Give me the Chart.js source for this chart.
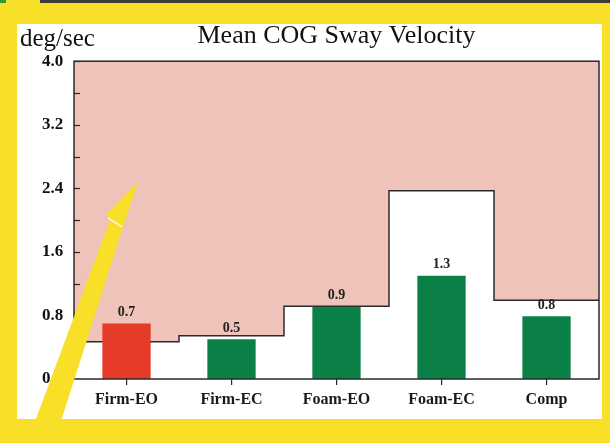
<!DOCTYPE html>
<html>
<head>
<meta charset="utf-8">
<script src="https://cdn.jsdelivr.net/npm/chart.js@4.4.1/dist/chart.umd.min.js"></script>
<style>
  html,body{margin:0;padding:0;background:#f8e028;}
  #wrap{position:relative;width:610px;height:443px;}
  canvas{display:block;}
</style>
</head>
<body>
<div id="wrap"><canvas id="chart" width="610" height="443"></canvas></div>
<script>
/* Mean COG Sway Velocity */
const categories = ['Firm-EO','Firm-EC','Foam-EO','Foam-EC','Comp'];
const swayValues = [0.70, 0.50, 0.91, 1.30, 0.79];
const normalLimits = [0.47, 0.545, 0.915, 2.37, 0.99];
const yTickLabels = ['0','0.8','1.6','2.4','3.2','4.0'];
const yUnit = 'deg/sec';
const chartTitle = 'Mean COG Sway Velocity';

const RED='#e53b28', GREEN='#0b8046', PINK='#efc2ba', INK='#2a2a2a', YEL='#f8e028';
const SERIF = '"Liberation Serif","Times New Roman",serif';

// step line: one point per category edge, last value repeated to close the step
const limitPts = normalLimits.map((v,i)=>({x:i,y:v}));
limitPts.push({x:normalLimits.length, y:normalLimits[normalLimits.length-1]});

const framePlugin = {
  id:'frame',
  beforeDraw(c){
    const g=c.ctx;
    g.save();
    g.fillStyle=YEL; g.fillRect(0,0,c.width,c.height);
    g.fillStyle='#3a3a36'; g.fillRect(40,0,570,3);
    g.fillStyle='#2f9a3c'; g.fillRect(0,0,6,3);
    g.fillStyle='#fff'; g.fillRect(17,24,585,395);
    g.fillStyle='#111'; g.font='25px '+SERIF; g.textBaseline='alphabetic';
    g.fillText(yUnit,20,46);
    g.restore();
  },
  afterDatasetsDraw(c){
    const g=c.ctx, a=c.chartArea, y=c.scales.y;
    g.save();
    // value labels
    const meta=c.getDatasetMeta(0);
    g.fillStyle='#222'; g.font='bold 14px '+SERIF; g.textAlign='center'; g.textBaseline='bottom';
    meta.data.forEach((el,i)=>g.fillText(swayValues[i].toFixed(1),el.x,el.y-4));
    // inward ticks on y axis
    g.strokeStyle=INK; g.lineWidth=1.2;
    for(let v=0.4; v<4; v+=0.4){
      const py=Math.round(y.getPixelForValue(v))+0.5;
      g.beginPath(); g.moveTo(a.left,py); g.lineTo(a.left+6,py); g.stroke();
    }
    // plot box
    g.lineWidth=1.5;
    g.strokeRect(a.left,a.top,a.right-a.left,a.bottom-a.top);
    g.restore();
  },
  afterDraw(c){
    // yellow arrow overlay
    const g=c.ctx;
    g.save();
    g.fillStyle=YEL;
    g.beginPath();
    g.moveTo(138,182); g.lineTo(106,215); g.lineTo(110,220);
    g.lineTo(27,443); g.lineTo(54,443); g.lineTo(123,227);
    g.closePath(); g.fill();
    g.strokeStyle='rgba(255,250,220,0.9)'; g.lineWidth=1.5;
    g.beginPath(); g.moveTo(108,218); g.lineTo(122,227); g.stroke();
    g.restore();
  }
};

new Chart(document.getElementById('chart'),{
  type:'bar',
  data:{
    labels:categories,
    datasets:[
      {type:'bar', data:swayValues, order:0, grouped:false,
       backgroundColor:swayValues.map((_,i)=>i===0?RED:GREEN),
       borderWidth:0, categoryPercentage:1, barPercentage:0.46},
      {type:'line', data:limitPts, xAxisID:'x2', order:1,
       stepped:'before', fill:'end', backgroundColor:PINK,
       borderColor:INK, borderWidth:1.5, pointRadius:0, tension:0}
    ]
  },
  options:{
    responsive:false, animation:false, devicePixelRatio:1,
    layout:{padding:{left:42,right:11,top:0,bottom:0}},
    plugins:{
      legend:{display:false}, tooltip:{enabled:false},
      title:{display:true, text:chartTitle, fullSize:false, color:'#111',
        font:{family:SERIF,size:26,weight:'normal',lineHeight:1.2},
        padding:{top:21,bottom:9}}
    },
    scales:{
      x:{
        grid:{display:true, drawOnChartArea:false, drawTicks:true, tickLength:6, offset:false, color:INK, lineWidth:1.2},
        border:{display:false},
        ticks:{color:'#1a1a1a', font:{family:SERIF,size:16,weight:'bold'}, padding:5, maxRotation:0},
        afterFit:s=>{s.height=64;}
      },
      x2:{type:'linear', min:0, max:categories.length, offset:false, display:false},
      y:{
        min:0, max:4,
        grid:{display:false}, border:{display:false},
        ticks:{stepSize:0.8, color:'#111', font:{family:SERIF,size:17,weight:'bold'}, padding:2,
          crossAlign:'far', callback:(v,i)=>yTickLabels[i]},
        afterFit:s=>{s.width=32;}
      }
    }
  },
  plugins:[framePlugin]
});
</script>
</body>
</html>
